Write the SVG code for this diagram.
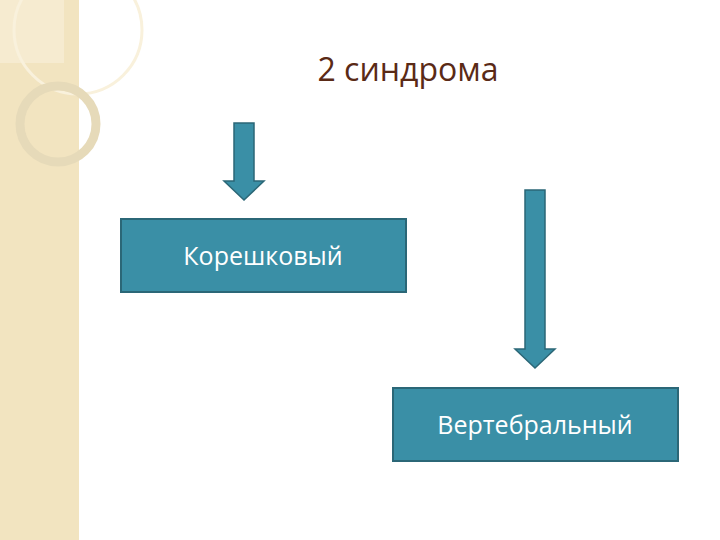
<svg xmlns="http://www.w3.org/2000/svg" width="720" height="540" viewBox="0 0 720 540">
<style>
.box{fill:#3a8fa6;stroke:#2b6777;stroke-width:2}
.arr{fill:#3a8fa6;stroke:#2b6777;stroke-width:1.5}
.lbl{font-family:"Open Sans","Noto Sans",sans-serif;font-size:25px;fill:#fff;text-anchor:middle}
</style>
<rect width="720" height="540" fill="#fff"/>
<g id="band">
<rect x="0" y="0" width="79" height="540" fill="#f2e4c0"/>
<rect x="0" y="0" width="64" height="63" fill="#f6ebd0"/>
<circle cx="78" cy="30" r="64" fill="none" stroke="#f9f1dc" stroke-width="3"/>
<circle cx="58" cy="124" r="38" fill="none" stroke="#e6dab9" stroke-width="9"/>
</g>
<text x="408" y="81" font-family="Open Sans,Noto Sans,sans-serif" font-size="32" fill="#5a2a16" text-anchor="middle">2 синдрома</text>
<g id="connectors">
<polygon class="arr" points="234,123 254,123 254,181 264,181 244,200 224,181 234,181"/>
<polygon class="arr" points="525,190 545,190 545,349 555,349 535,368 515,349 525,349"/>
</g>
<g id="node1"><rect class="box" x="121" y="219" width="285" height="73"/><text class="lbl" x="263" y="265">Корешковый</text></g>
<g id="node2"><rect class="box" x="393" y="388" width="285" height="73"/><text class="lbl" x="535" y="434">Вертебральный</text></g>
</svg>
